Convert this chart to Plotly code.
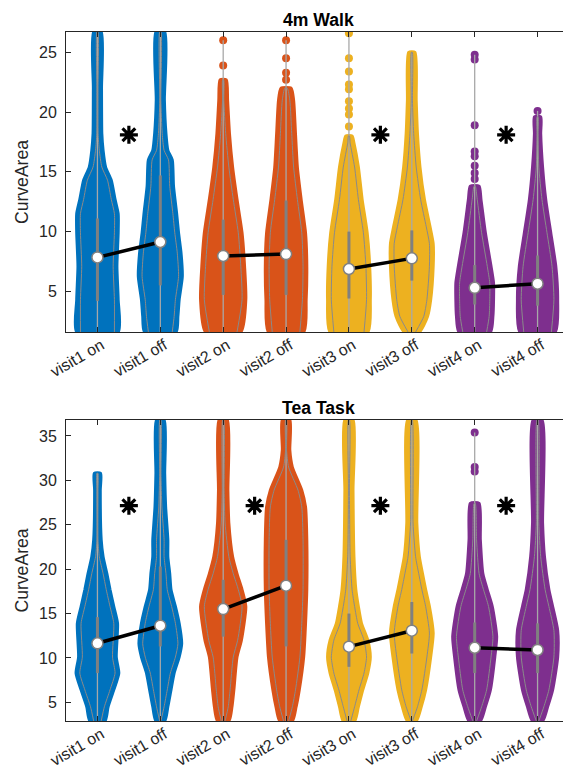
import plotly.graph_objects as go

categories = ["visit1 on", "visit1 off", "visit2 on", "visit2 off",
              "visit3 on", "visit3 off", "visit4 on", "visit4 off"]
colors = ["#0072BD", "#D95319", "#EDB120", "#7E2F8E"]

# ---------------- 4m Walk ----------------
walk_levels = [
    [1.6, 4.3, 7.1, 9.9, 11.5, 12.7, 14.3, 15.4, 16.8, 18.2, 22.0, 26.7],
    [1.6, 2.9, 4.3, 6.25, 8.2, 9.9, 11.5, 13.8, 16.0, 16.8, 18.2, 21.0, 26.7],
    [1.6, 4.3, 7.1, 9.9, 12.7, 15.4, 18.2, 21.0, 22.7],
    [1.6, 4.3, 7.1, 9.9, 12.7, 15.4, 18.2, 21.0, 22.0],
    [1.6, 4.3, 7.1, 9.9, 12.7, 15.4, 17.4, 18.0],
    [1.6, 2.9, 4.3, 7.1, 9.0, 10.4, 12.7, 15.4, 18.2, 21.0, 25.0],
    [1.6, 2.9, 4.3, 5.7, 7.1, 9.9, 12.7, 13.8],
    [1.6, 4.3, 7.1, 9.9, 12.7, 15.4, 18.2, 19.6],
]
walk_widths = [
    [0.33, 0.33, 0.31, 0.33, 0.33, 0.28, 0.22, 0.13, 0.09, 0.07, 0.065, 0.06],
    [0.25, 0.28, 0.30, 0.35, 0.33, 0.29, 0.26, 0.21, 0.19, 0.12, 0.09, 0.065, 0.07],
    [0.28, 0.36, 0.34, 0.30, 0.22, 0.15, 0.10, 0.07, 0.05],
    [0.28, 0.32, 0.33, 0.31, 0.24, 0.18, 0.15, 0.12, 0.08],
    [0.30, 0.34, 0.33, 0.29, 0.21, 0.15, 0.08, 0.05],
    [0.12, 0.25, 0.30, 0.34, 0.34, 0.29, 0.20, 0.13, 0.09, 0.07, 0.05],
    [0.25, 0.29, 0.30, 0.30, 0.26, 0.17, 0.10, 0.07],
    [0.28, 0.32, 0.29, 0.21, 0.13, 0.08, 0.05, 0.05],
]
walk_outliers = [
    [],
    [],
    [23.9, 26.0],
    [22.7, 23.3, 24.5, 26.0],
    [18.8, 19.8, 20.3, 20.9, 21.9, 22.3, 23.4, 24.5, 26.6],
    [],
    [14.4, 14.9, 15.5, 16.3, 16.7, 18.9, 24.4, 24.8],
    [20.1],
]
walk_median = [7.84, 9.13, 7.96, 8.12, 6.87, 7.76, 5.3, 5.64]
walk_q1 = [4.2, 5.5, 4.7, 4.7, 4.4, 5.9, 3.9, 3.8]
walk_q3 = [11.1, 14.7, 11.0, 12.6, 10.0, 10.1, 7.2, 8.0]
walk_sig = [True, False, True, True]
walk_star_y = 18.1

# ---------------- Tea Task ----------------
tea_levels = [
    [2.9, 4.5, 6.4, 8.3, 10.1, 13.9, 15.8, 17.7, 19.5, 21.4, 23.3, 28.9, 30.8],
    [2.9, 4.5, 6.4, 8.3, 10.1, 11.6, 13.9, 15.8, 17.7, 19.5, 21.4, 23.3, 27.0, 30.8, 36.8],
    [2.9, 4.5, 6.4, 10.1, 12.0, 15.8, 17.7, 19.5, 21.4, 25.2, 28.9, 36.8],
    [2.9, 4.5, 6.4, 10.1, 13.9, 17.7, 23.3, 27.0, 28.9, 31.5, 33.4, 36.8],
    [2.9, 4.5, 6.4, 8.3, 10.1, 12.0, 13.9, 15.8, 17.7, 21.4, 28.9, 36.8],
    [2.9, 4.5, 6.4, 10.1, 12.8, 15.8, 17.7, 19.5, 21.4, 25.2, 36.8],
    [2.9, 4.5, 6.4, 10.1, 12.4, 15.8, 17.7, 19.5, 23.3, 27.4],
    [2.9, 4.5, 6.4, 10.1, 13.1, 15.8, 17.7, 21.4, 25.2, 36.8],
]
tea_widths = [
    [0.12, 0.17, 0.26, 0.34, 0.30, 0.32, 0.26, 0.20, 0.15, 0.09, 0.06, 0.045, 0.05],
    [0.07, 0.12, 0.17, 0.22, 0.30, 0.34, 0.30, 0.24, 0.17, 0.15, 0.12, 0.12, 0.085, 0.07, 0.06],
    [0.09, 0.14, 0.17, 0.22, 0.29, 0.36, 0.30, 0.22, 0.15, 0.09, 0.075, 0.065],
    [0.10, 0.16, 0.21, 0.28, 0.31, 0.33, 0.33, 0.31, 0.25, 0.10, 0.06, 0.06],
    [0.09, 0.15, 0.22, 0.30, 0.34, 0.30, 0.20, 0.15, 0.11, 0.08, 0.065, 0.065],
    [0.07, 0.15, 0.22, 0.30, 0.34, 0.28, 0.22, 0.17, 0.12, 0.08, 0.065],
    [0.09, 0.17, 0.25, 0.32, 0.35, 0.28, 0.20, 0.13, 0.09, 0.07],
    [0.08, 0.16, 0.24, 0.32, 0.32, 0.24, 0.18, 0.11, 0.08, 0.07],
]
tea_outliers = [[], [], [], [], [], [], [31.0, 31.5, 35.4], []]
tea_median = [11.65, 13.63, 15.51, 18.14, 11.27, 13.07, 11.15, 10.9]
tea_q1 = [8.3, 11.3, 12.4, 11.3, 9.0, 10.5, 8.3, 8.3]
tea_q3 = [14.6, 20.3, 18.8, 23.3, 15.0, 16.3, 14.0, 13.9]
tea_sig = [True, True, True, True]
tea_star_y = 27.15

FONT = "Liberation Sans, Arial, Helvetica, sans-serif"
OUTLINE = "#8a8a8a"
fig = go.Figure()


def add_panel(xref, yref, levels, widths, outliers, med, q1, q3, sig, star_y):
    for i in range(len(categories)):
        pos = i + 1
        col = colors[i // 2]
        lv = levels[i]
        w = widths[i]
        xs = [pos + v for v in w] + [pos - v for v in reversed(w)] + [pos + w[0]]
        ys = list(lv) + list(reversed(lv)) + [lv[0]]
        fig.add_trace(go.Scatter(x=xs, y=ys, xaxis=xref, yaxis=yref, mode="lines",
                                 fill="toself", fillcolor=col,
                                 line=dict(color=col, width=3, shape="spline", smoothing=0.6),
                                 hoverinfo="skip"))
        if outliers[i]:
            fig.add_trace(go.Scatter(x=[pos] * len(outliers[i]), y=outliers[i],
                                     xaxis=xref, yaxis=yref, mode="markers",
                                     marker=dict(color=col, size=8, line=dict(width=0)),
                                     hoverinfo="skip"))
        top = max([lv[-1]] + outliers[i])
        fig.add_trace(go.Scatter(x=[pos, pos], y=[lv[0], top], xaxis=xref, yaxis=yref,
                                 mode="lines", line=dict(color="#a8a8a8", width=1.3),
                                 hoverinfo="skip"))
        ow = [max(v - 0.06, 0.008) for v in w]
        oxs = [pos + v for v in ow] + [pos - v for v in reversed(ow)]
        oys = list(lv) + list(reversed(lv))
        fig.add_trace(go.Scatter(x=oxs, y=oys, xaxis=xref, yaxis=yref, mode="lines",
                                 line=dict(color=OUTLINE, width=1, shape="spline", smoothing=0.6),
                                 hoverinfo="skip"))
        fig.add_trace(go.Scatter(x=[pos, pos], y=[q1[i], q3[i]], xaxis=xref, yaxis=yref,
                                 mode="lines", line=dict(color="#808080", width=3),
                                 hoverinfo="skip"))
    for p in range(4):
        fig.add_trace(go.Scatter(x=[2 * p + 1, 2 * p + 2], y=[med[2 * p], med[2 * p + 1]],
                                 xaxis=xref, yaxis=yref, mode="lines",
                                 line=dict(color="black", width=3.5), hoverinfo="skip"))
    fig.add_trace(go.Scatter(x=list(range(1, 9)), y=med, xaxis=xref, yaxis=yref,
                             mode="markers",
                             marker=dict(color="white", size=11,
                                         line=dict(color="#808080", width=1.5)),
                             hoverinfo="skip"))
    sx = [2 * p + 1.5 for p in range(4) if sig[p]]
    fig.add_trace(go.Scatter(x=sx, y=[star_y] * len(sx), xaxis=xref, yaxis=yref,
                             mode="markers",
                             marker=dict(symbol="asterisk-open", size=15, color="black",
                                         line=dict(color="black", width=3.2)),
                             hoverinfo="skip"))


add_panel("x", "y", walk_levels, walk_widths, walk_outliers, walk_median,
          walk_q1, walk_q3, walk_sig, walk_star_y)
add_panel("x2", "y2", tea_levels, tea_widths, tea_outliers, tea_median,
          tea_q1, tea_q3, tea_sig, tea_star_y)

axis_common = dict(showline=True, linecolor="#262626", linewidth=1, mirror="ticks",
                   ticks="inside", ticklen=5, tickcolor="#262626", showgrid=False,
                   zeroline=False, automargin=False,
                   tickfont=dict(family=FONT, size=16, color="#262626"))
yaxis_extra = dict(ticklabelstandoff=5)
xaxis_extra = dict(ticklabelstandoff=-3, ticklabelshift=4)

# the page body adds an 8px offset, so the figure is 8px smaller and margins shifted
fig.update_layout(
    template="none",
    width=563, height=769,
    margin=dict(l=58, r=2, t=24, b=56, autoexpand=False),
    plot_bgcolor="white", paper_bgcolor="white",
    showlegend=False,
    xaxis=dict(domain=[0, 1], anchor="y", range=[0.5, 8.5], tickvals=list(range(1, 9)),
               ticktext=categories, tickangle=-30, **axis_common, **xaxis_extra),
    yaxis=dict(domain=[0.5646, 1], anchor="x", range=[1.6, 26.7],
               tickvals=[5, 10, 15, 20, 25],
               title=dict(text="CurveArea", standoff=5,
                          font=dict(family=FONT, size=17.6, color="#262626")),
               **axis_common, **yaxis_extra),
    xaxis2=dict(domain=[0, 1], anchor="y2", range=[0.5, 8.5], tickvals=list(range(1, 9)),
                ticktext=categories, tickangle=-30, **axis_common, **xaxis_extra),
    yaxis2=dict(domain=[0, 0.4369], anchor="x2", range=[2.9, 36.8],
                tickvals=[5, 10, 15, 20, 25, 30, 35],
                title=dict(text="CurveArea", standoff=5,
                           font=dict(family=FONT, size=17.6, color="#262626")),
                **axis_common, **yaxis_extra),
    annotations=[
        dict(text="<b>4m Walk</b>", x=0.501, y=1.0167, xref="paper", yref="paper",
             showarrow=False, xanchor="center", yanchor="middle",
             font=dict(family=FONT, size=17.6, color="black")),
        dict(text="<b>Tea Task</b>", x=0.501, y=0.4543, xref="paper", yref="paper",
             showarrow=False, xanchor="center", yanchor="middle",
             font=dict(family=FONT, size=17.6, color="black")),
    ],
)

fig.write_html("out.html")
